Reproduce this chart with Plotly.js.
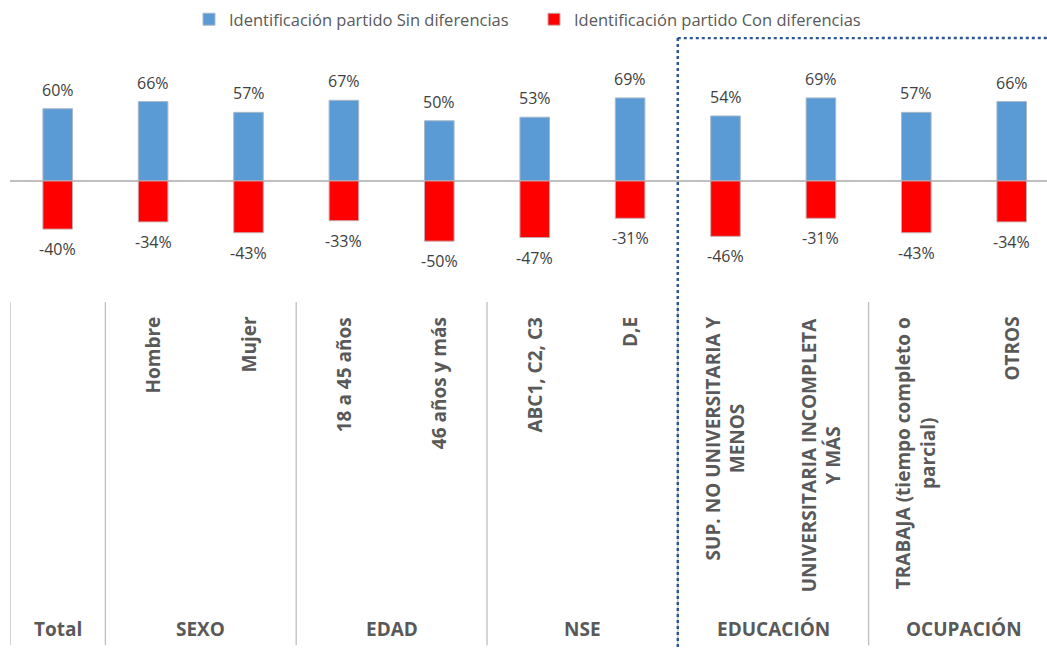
<!DOCTYPE html>
<html>
<head>
<meta charset="utf-8">
<script src="https://cdn.plot.ly/plotly-3.0.1.min.js"></script>
<style>html,body{margin:0;padding:0;background:#fff;}#chart{width:1047px;height:651px;}</style>
</head>
<body>
<div id="chart"></div>
<script>
// ---- Data ----
const categories = ["Total","Hombre","Mujer","18 a 45 años","46 años y más","ABC1, C2, C3","D,E",
  "SUP. NO UNIVERSITARIA Y<br>MENOS","UNIVERSITARIA INCOMPLETA<br>Y MÁS","TRABAJA (tiempo completo o<br>parcial)","OTROS"];
const categoryLabels = ["","Hombre","Mujer","18 a 45 años","46 años y más","ABC1, C2, C3","D,E",
  "SUP. NO UNIVERSITARIA Y<br>MENOS","UNIVERSITARIA INCOMPLETA<br>Y MÁS","TRABAJA (tiempo completo o<br>parcial)","OTROS"];
const sinDiferencias = [60,66,57,67,50,53,69,54,69,57,66];
const conDiferencias = [-40,-34,-43,-33,-50,-47,-31,-46,-31,-43,-34];
const groups = ["Total","SEXO","EDAD","NSE","EDUCACIÓN","OCUPACIÓN"];
const groupStart = [0,1,3,5,7,9];
const groupEnd   = [0,2,4,6,8,10];
const seriesNames = ["Identificación partido Sin diferencias","Identificación partido Con diferencias"];

// ---- Layout helpers ----
const W = 1047, H = 651;
const mL = 10, mT = 35, plotBottom = 300;
const plotH = plotBottom - mT;
const xRange = [-0.5, 10.37];
const yRange = [-98.9, 119.6];
const py = px => (plotBottom - px) / plotH; // pixel -> paper y

const idx = categories.map((_, i) => i);
const font = "'Open Sans', 'Noto Sans', sans-serif";

const traces = [
  {type:'bar', x: idx, y: sinDiferencias, name: seriesNames[0], width: 0.31,
   marker:{color:'#5B9BD5', line:{color:'#A9B8C8', width:1}}, hoverinfo:'none'},
  {type:'bar', x: idx, y: conDiferencias, name: seriesNames[1], width: 0.31,
   marker:{color:'#FF0000', line:{color:'#C8A9A9', width:1}}, hoverinfo:'none'}
];

const annotations = [];
sinDiferencias.forEach((v, i) => annotations.push({
  x: i, y: v, xref:'x', yref:'y', text: v + '%', showarrow:false,
  yanchor:'bottom', yshift: 6, font:{family:font, size:16, color:'#404040'}
}));
conDiferencias.forEach((v, i) => annotations.push({
  x: i, y: v, xref:'x', yref:'y', text: v + '%', showarrow:false,
  yanchor:'top', yshift: -7, font:{family:font, size:16, color:'#404040'}
}));
categoryLabels.forEach((t, i) => { if (t) annotations.push({
  x: i, y: py(315), xref:'x', yref:'paper', text: t, showarrow:false, textangle:-90,
  xanchor:'center', yanchor:'top', align:'center',
  font:{family:font, size:19, color:'#595959', weight:'bold'}
}); });
groups.forEach((g, k) => annotations.push({
  x: (groupStart[k] + groupEnd[k]) / 2, y: py(632), xref:'x', yref:'paper', text: '<b>' + g + '</b>',
  showarrow:false, xanchor:'center', yanchor:'middle',
  font:{family:font, size:19, color:'#595959'}
}));

const shapes = [];
const boundaries = [-0.5].concat(groupEnd.map(e => e + 0.5)).filter(b => b < 10);
boundaries.forEach(b => shapes.push({
  type:'line', xref:'x', yref:'paper', x0:b, x1:b, y0:py(302), y1:py(648),
  line:{color:'#BFBFBF', width:1.3}
}));
// dotted highlight frame around EDUCACIÓN / OCUPACIÓN
shapes.push({type:'line', xref:'x', yref:'paper', x0:6.5, x1:6.5, y0:py(36), y1:py(651),
  line:{color:'#2F5597', width:2.5, dash:'dot'}});
shapes.push({type:'line', xref:'x', yref:'paper', x0:6.5, x1:xRange[1], y0:py(36), y1:py(36),
  line:{color:'#2F5597', width:2.5, dash:'dot'}});

const layout = {
  width: W, height: H,
  margin:{l:mL, r:0, t:mT, b:H - plotBottom},
  paper_bgcolor:'#fff', plot_bgcolor:'#fff',
  barmode:'relative',
  showlegend:true,
  legend:{orientation:'h', xref:'container', yref:'container', x:189/W, y:1 - 2/H,
    xanchor:'left', yanchor:'top', font:{family:font, size:16.5, color:'#595959'},
    itemwidth:30, entrywidth:300, entrywidthmode:'pixels', traceorder:'normal'},
  xaxis:{range:xRange, showticklabels:false, showgrid:false, zeroline:false, showline:false, ticks:''},
  yaxis:{range:yRange, showticklabels:false, showgrid:false, zeroline:true, zerolinecolor:'#BFBFBF',
    zerolinewidth:1.3, showline:false, ticks:''},
  annotations, shapes
};

Plotly.newPlot('chart', traces, layout, {displayModeBar:false, staticPlot:true});
</script>
</body>
</html>
